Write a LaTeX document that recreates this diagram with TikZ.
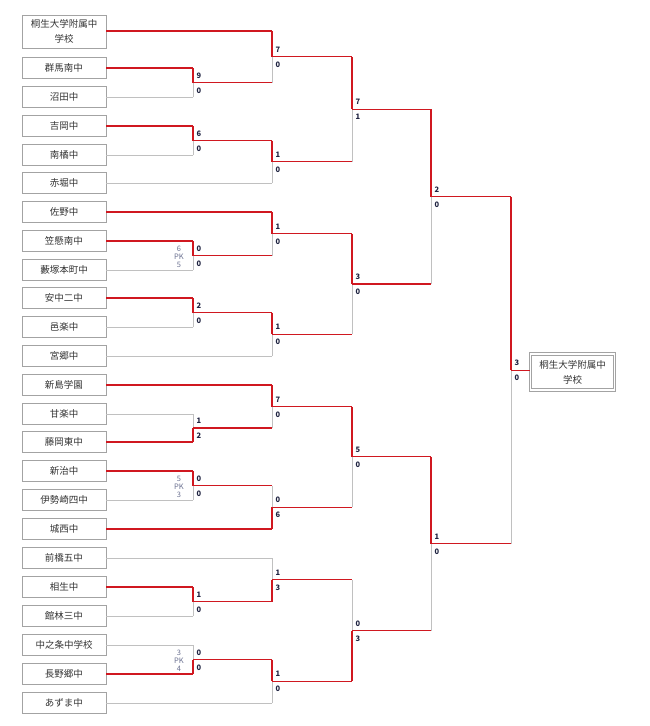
\documentclass[tikz,border=0pt]{standalone}
\usepackage{fontspec}
\setmainfont{Noto Sans CJK JP}
\definecolor{W}{HTML}{D01820}
\definecolor{L}{HTML}{C0C0C0}
\definecolor{sc}{HTML}{1E2240}
\definecolor{pk}{HTML}{6A7090}
\newcommand\Mt[9]{%
 \draw[#6] (#4,#2) -- (#1,#2);
 \draw[#7] (#5,#3) -- (#1,#3);
 \draw[#8] (#1,#2) -- (#1,{(#2+#3)/2});
 \draw[#9] (#1,#3) -- (#1,{(#2+#3)/2});}
\newcommand\Sc[4]{%
 \node[score] at (#1+3,#2-7) {#3};
 \node[score] at (#1+3,#2+8) {#4};}
\newcommand\Pk[4]{%
 \node[pkt] at (#1-14,#2-8) {#3};
 \node[pkt] at (#1-14,#2) {PK};
 \node[pkt] at (#1-14,#2+8) {#4};}
\begin{document}
\begin{tikzpicture}[x=1pt,y=-1pt,
 team/.style={draw=L!85!black,line width=1pt,minimum width=84pt,minimum height=21pt,inner sep=0pt,font=\fontsize{9.5}{15}\selectfont,align=center,text=black!80},
 score/.style={anchor=west,font=\fontsize{7.5}{7.5}\selectfont\bfseries,text=sc,inner sep=0pt},
 pkt/.style={font=\fontsize{7.5}{7.5}\selectfont,text=pk,inner sep=0pt},
 every path/.style={line width=1.2pt}]
\useasboundingbox (0,0) rectangle (650,726);
\tikzset{W/.style={draw=W},L/.style={draw=L,line width=1pt}}
% teams
\node[team,minimum height=33pt] (t1) at (64,31.5) {桐生大学附属中\\学校};
\foreach \n/\y/\t in {2/68/群馬南中,3/97/沼田中,4/126/吉岡中,5/155/南橘中,6/183/赤堀中,7/212/佐野中,8/241/笠懸南中,9/270/藪塚本町中,10/298/安中二中,11/327/邑楽中,12/356/宮郷中,13/385/新島学園,14/414/甘楽中,15/442/藤岡東中,16/471/新治中,17/500/伊勢崎四中,18/529/城西中,19/558/前橋五中,20/587/相生中,21/616/館林三中,22/645/中之条中学校,23/674/長野郷中,24/703/あずま中}
 \node[team] (t\n) at (64,\y) {\t};
\node[team,double=white,double distance=1.5pt,minimum width=84pt,minimum height=36pt] (champ) at (572.5,372) {桐生大学附属中\\学校};
% round 1
\Mt{193}{68}{97}{106}{106}{W}{L}{W}{L}
\Mt{193}{126}{155}{106}{106}{W}{L}{W}{L}
\Mt{193}{241}{270}{106}{106}{W}{L}{W}{L}
\Mt{193}{298}{327}{106}{106}{W}{L}{W}{L}
\Mt{193}{414}{442}{106}{106}{L}{W}{L}{W}
\Mt{193}{471}{500}{106}{106}{W}{L}{W}{L}
\Mt{193}{587}{616}{106}{106}{W}{L}{W}{L}
\Mt{193}{645}{674}{106}{106}{L}{W}{L}{W}
% round 2
\Mt{272}{31}{82.5}{106}{193}{W}{W}{W}{L}
\Mt{272}{140.5}{183}{193}{106}{W}{L}{W}{L}
\Mt{272}{212}{255.5}{106}{193}{W}{W}{W}{L}
\Mt{272}{312.5}{356}{193}{106}{W}{L}{W}{L}
\Mt{272}{385}{428}{106}{193}{W}{W}{W}{L}
\Mt{272}{485.5}{529}{193}{106}{W}{W}{L}{W}
\Mt{272}{558}{601.5}{106}{193}{L}{W}{L}{W}
\Mt{272}{659.5}{703}{193}{106}{W}{L}{W}{L}
% round 3
\Mt{352}{56.75}{161.75}{272}{272}{W}{W}{W}{L}
\Mt{352}{233.75}{334.25}{272}{272}{W}{W}{W}{L}
\Mt{352}{406.5}{507.25}{272}{272}{W}{W}{W}{L}
\Mt{352}{579.75}{681.25}{272}{272}{W}{W}{L}{W}
% round 4
\Mt{431}{109.25}{284}{352}{352}{W}{W}{W}{L}
\Mt{431}{456.875}{630.5}{352}{352}{W}{W}{W}{L}
% final
\Mt{511}{196.625}{543.6875}{431}{431}{W}{W}{W}{L}
\draw[W] (511,370.15625) -- (champ.west |- 0,370.15625);
% scores
\Sc{193}{82.5}{9}{0}\Sc{193}{140.5}{6}{0}\Sc{193}{255.5}{0}{0}\Sc{193}{312.5}{2}{0}
\Sc{193}{428}{1}{2}\Sc{193}{485.5}{0}{0}\Sc{193}{601.5}{1}{0}\Sc{193}{659.5}{0}{0}
\Sc{272}{56.75}{7}{0}\Sc{272}{161.75}{1}{0}\Sc{272}{233.75}{1}{0}\Sc{272}{334.25}{1}{0}
\Sc{272}{406.5}{7}{0}\Sc{272}{507.25}{0}{6}\Sc{272}{579.75}{1}{3}\Sc{272}{681.25}{1}{0}
\Sc{352}{109.25}{7}{1}\Sc{352}{284}{3}{0}\Sc{352}{456.875}{5}{0}\Sc{352}{630.5}{0}{3}
\Sc{431}{196.625}{2}{0}\Sc{431}{543.6875}{1}{0}
\Sc{511}{370.15625}{3}{0}
\Pk{193}{256.5}{6}{5}\Pk{193}{486.5}{5}{3}\Pk{193}{660.5}{3}{4}
\end{tikzpicture}
\end{document}
